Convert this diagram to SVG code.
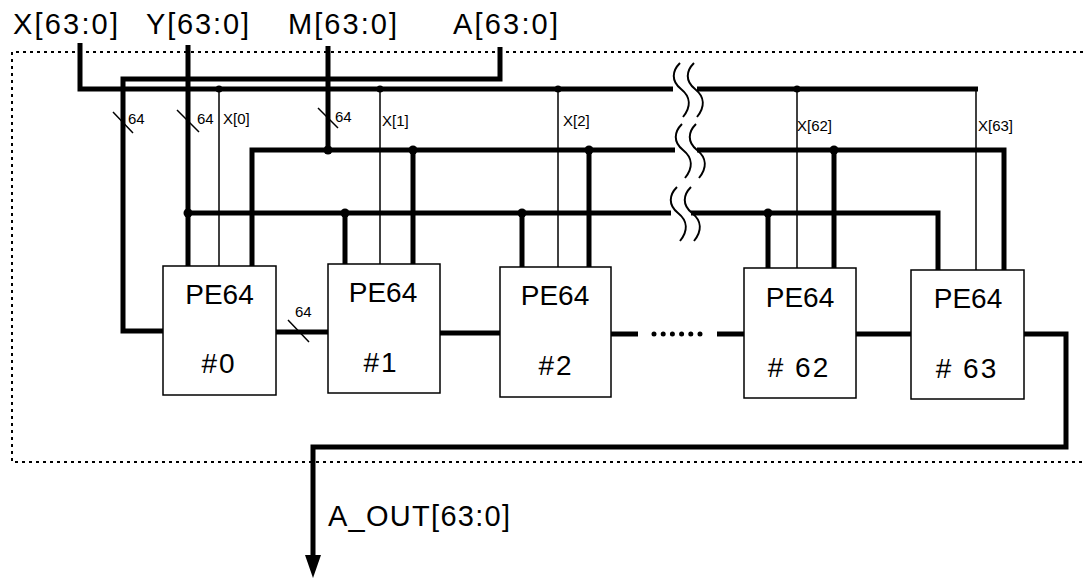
<svg xmlns="http://www.w3.org/2000/svg" width="1083" height="579" viewBox="0 0 1083 579">
<style>
  .thick { fill: none; stroke: #000; stroke-width: 5; stroke-linejoin: miter; }
  .thin { fill: none; stroke: #000; stroke-width: 1.5; }
  .brk { fill: none; stroke: #000; stroke-width: 2; }
  .box { fill: #fff; stroke: #000; stroke-width: 1.5; }
  .lbl { font-family: "Liberation Sans", Arial, sans-serif; font-size: 29px; fill: #000; }
  .pe { font-family: "Liberation Sans", Arial, sans-serif; font-size: 28px; fill: #000; text-anchor: middle; }
  .num { letter-spacing: 2px; }
  .sm { font-family: "Liberation Sans", Arial, sans-serif; font-size: 15px; fill: #000; }
  .dot { fill: #000; }
</style>
<rect width="1083" height="579" fill="#fff"/>
<path d="M1083,52 H12 V462 H1083" fill="none" stroke="#000" stroke-width="2" stroke-dasharray="3 4"/>
<g id="inputs">
  <text class="lbl" x="13" y="34" textLength="105" lengthAdjust="spacing">X[63:0]</text>
  <text class="lbl" x="146" y="34" textLength="103" lengthAdjust="spacing">Y[63:0]</text>
  <text class="lbl" x="288" y="34" textLength="109" lengthAdjust="spacing">M[63:0]</text>
  <text class="lbl" x="453" y="34" textLength="105" lengthAdjust="spacing">A[63:0]</text>
</g>
<g id="connectors">
  <path class="thick" d="M80,43 V89 H673"/>
  <path class="thick" d="M697,89 H978"/>
  <path class="thin" d="M976,89 V270"/>
  <path class="thick" d="M500,47 V79 H123 V331 H163"/>
  <path class="thick" d="M188,45 V266"/>
  <path class="thick" d="M188,213 H671"/>
  <path class="thick" d="M691,213 H938 V270"/>
  <path class="thick" d="M328,46 V150"/>
  <path class="thick" d="M252,266 V150 H675"/>
  <path class="thick" d="M697,150 H1004 V270"/>
  <path class="thin" d="M219,89 V266"/>
  <path class="thin" d="M380,89 V264"/>
  <path class="thin" d="M558,89 V267"/>
  <path class="thin" d="M797,89 V268"/>
  <path class="thick" d="M345,213 V264"/>
  <path class="thick" d="M413,150 V264"/>
  <path class="thick" d="M522,213 V267"/>
  <path class="thick" d="M589,150 V267"/>
  <path class="thick" d="M768,213 V268"/>
  <path class="thick" d="M834,150 V268"/>
  <circle class="dot" cx="219" cy="89" r="3.5"/>
  <circle class="dot" cx="380" cy="89" r="3.5"/>
  <circle class="dot" cx="558" cy="89" r="3.5"/>
  <circle class="dot" cx="797" cy="89" r="3.5"/>
  <circle class="dot" cx="328" cy="150" r="4.5"/>
  <circle class="dot" cx="413" cy="150" r="4.5"/>
  <circle class="dot" cx="589" cy="150" r="4.5"/>
  <circle class="dot" cx="834" cy="150" r="4.5"/>
  <circle class="dot" cx="188" cy="213" r="4.5"/>
  <circle class="dot" cx="345" cy="213" r="4.5"/>
  <circle class="dot" cx="522" cy="213" r="4.5"/>
  <circle class="dot" cx="768" cy="213" r="4.5"/>
  <path class="brk" d="M680,63 C672,71 671,81 681,89 C691,97 691,107 683,117 M694,63 C686,71 685,81 695,89 C705,97 705,107 697,117"/>
  <path class="brk" d="M682,124 C674,132 673,142 683,150 C693,158 693,168 685,178 M696,124 C688,132 687,142 697,150 C707,158 707,168 699,178"/>
  <path class="brk" d="M677,187 C669,195 668,205 678,213 C688,221 688,231 680,241 M691,187 C683,195 682,205 692,213 C702,221 702,231 694,241"/>
  <path class="thin" d="M113,112 L133,133 M177,110 L199,132 M318,108 L338,128 M288,320 L309,342"/>
  <text class="sm" x="128" y="124">64</text>
  <text class="sm" x="197" y="124">64</text>
  <text class="sm" x="335" y="122">64</text>
  <text class="sm" x="295" y="317">64</text>
  <text class="sm" x="223" y="124">X[0]</text>
  <text class="sm" x="382" y="126">X[1]</text>
  <text class="sm" x="563" y="126">X[2]</text>
  <text class="sm" x="797" y="131">X[62]</text>
  <text class="sm" x="978" y="131">X[63]</text>
  <path class="thick" d="M276,332 H328"/>
  <path class="thick" d="M440,333 H500"/>
  <path class="thick" d="M611,334 H638"/>
  <path d="M654,334 H701" fill="none" stroke="#000" stroke-width="5" stroke-linecap="round" stroke-dasharray="0 9.2"/>
  <path class="thick" d="M717,334 H744"/>
  <path class="thick" d="M856,334 H911"/>
  <path class="thick" d="M1024,334 H1066 V447 H313 V556"/>
  <polygon points="305,555 321,555 313,578" fill="#000"/>
  <text class="lbl" x="328" y="526" textLength="182" lengthAdjust="spacing">A_OUT[63:0]</text>
</g>
<g id="pe0">
  <rect class="box" x="163" y="266" width="113" height="129"/>
  <text class="pe" x="219.5" y="304">PE64</text>
  <text class="pe num" x="219" y="373">#0</text>
</g>
<g id="pe1">
  <rect class="box" x="328" y="264" width="112" height="129"/>
  <text class="pe" x="383" y="302">PE64</text>
  <text class="pe num" x="381" y="372">#1</text>
</g>
<g id="pe2">
  <rect class="box" x="500" y="267" width="111" height="130"/>
  <text class="pe" x="555" y="305">PE64</text>
  <text class="pe num" x="556" y="375">#2</text>
</g>
<g id="pe62">
  <rect class="box" x="744" y="268" width="112" height="130"/>
  <text class="pe" x="800" y="307">PE64</text>
  <text class="pe num" x="799" y="377"># 62</text>
</g>
<g id="pe63">
  <rect class="box" x="911" y="270" width="113" height="129"/>
  <text class="pe" x="968" y="308">PE64</text>
  <text class="pe num" x="967" y="378"># 63</text>
</g>
</svg>
